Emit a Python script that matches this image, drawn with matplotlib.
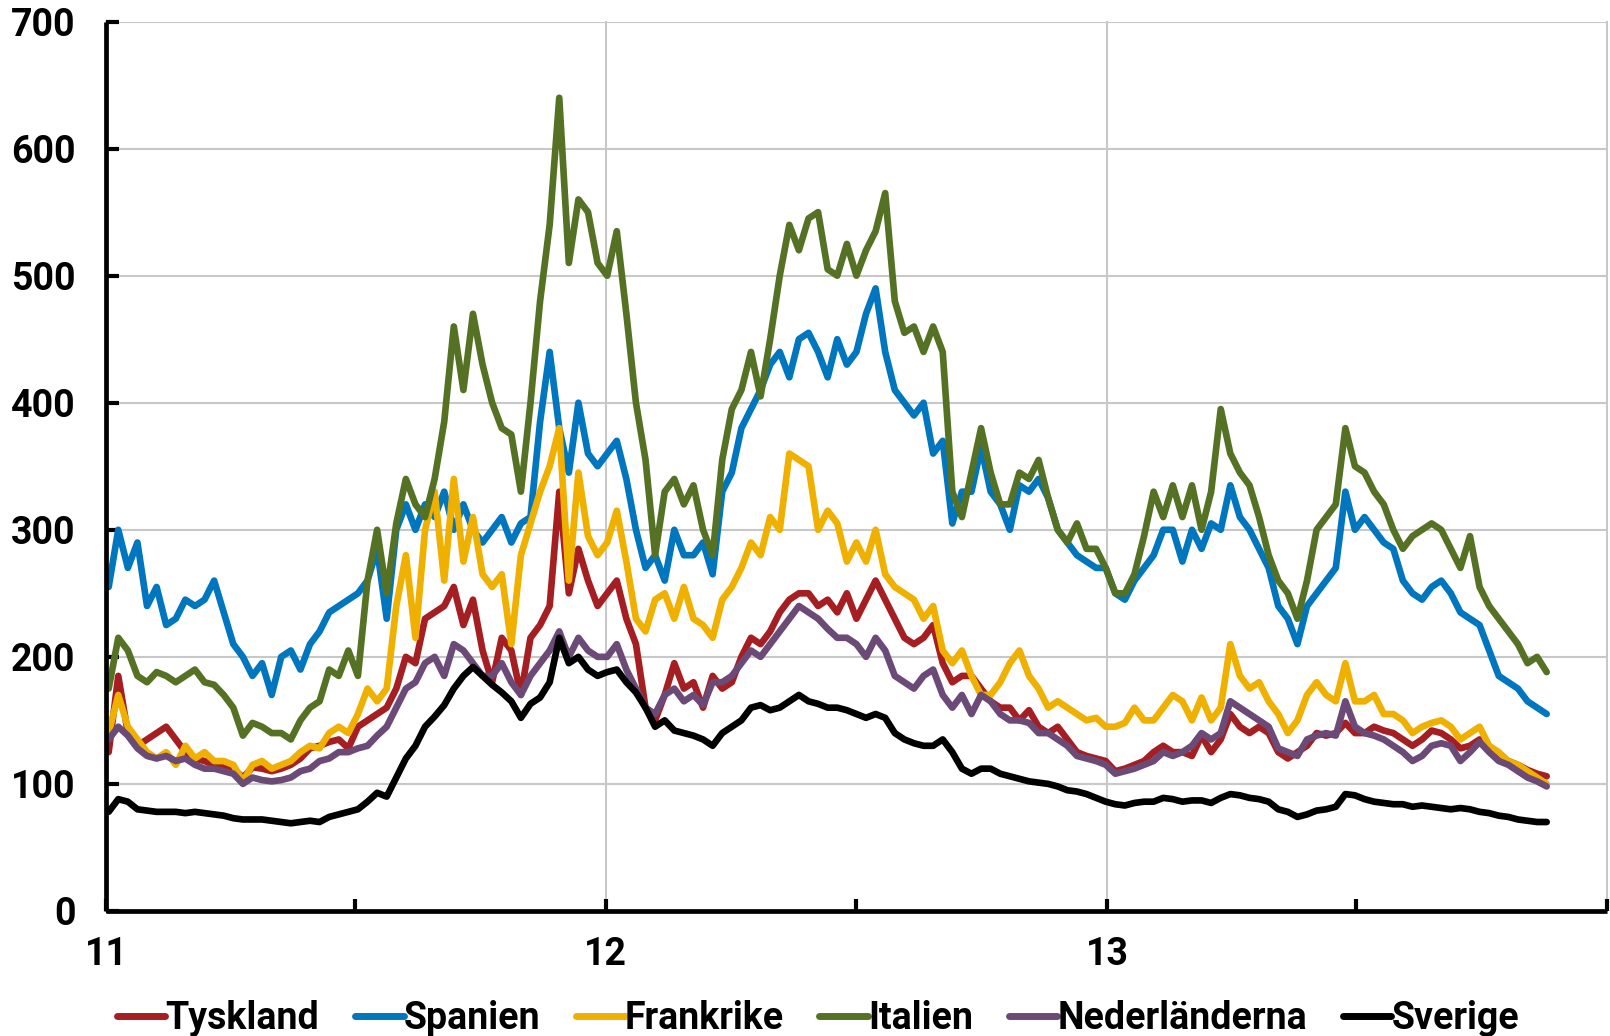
import numpy as np
import pandas as pd
import matplotlib
matplotlib.use("Agg")
import matplotlib.pyplot as plt

plt.rcParams['font.family'] = ['Roboto', 'DejaVu Sans']
plt.rcParams['font.weight'] = 'bold'

# veckodata, jan 2011 - nov 2013
dates = pd.date_range('2011-01-03', periods=151, freq='7D')

tyskland = [
    125, 185, 140, 130, 135, 140, 145, 135, 125, 120, 118, 115, 115, 112, 105, 113, 112, 110, 112, 115,
    120, 128, 130, 133, 135, 128, 145, 150, 155, 160, 175, 200, 195, 230, 235, 240, 255, 225, 245, 205,
    180, 215, 205, 170, 215, 225, 240, 330, 250, 285, 260, 240, 250, 260, 230, 210, 160, 150, 170, 195,
    175, 180, 160, 185, 175, 180, 200, 215, 210, 220, 235, 245, 250, 250, 240, 245, 235, 250, 230, 245,
    260, 245, 230, 215, 210, 215, 225, 195, 180, 185, 185, 175, 165, 160, 160, 150, 158, 145, 140, 145,
    135, 125, 122, 120, 118, 110, 112, 115, 118, 125, 130, 125, 125, 122, 138, 125, 135, 155, 145, 140,
    145, 140, 125, 120, 125, 130, 140, 138, 140, 148, 140, 140, 145, 142, 140, 135, 130, 135, 142, 140,
    135, 128, 130, 135, 128, 120, 118, 115, 111, 108, 106]

spanien = [
    255, 300, 270, 290, 240, 255, 225, 230, 245, 240, 245, 260, 235, 210, 200, 185, 195, 170, 200, 205,
    190, 210, 220, 235, 240, 245, 250, 260, 285, 230, 300, 320, 300, 320, 310, 330, 300, 320, 300, 290,
    300, 310, 290, 305, 310, 385, 440, 380, 345, 400, 360, 350, 360, 370, 340, 300, 270, 280, 260, 300,
    280, 280, 290, 265, 330, 345, 380, 395, 410, 430, 440, 420, 450, 455, 440, 420, 450, 430, 440, 470,
    490, 440, 410, 400, 390, 400, 360, 370, 305, 330, 330, 365, 330, 320, 300, 335, 330, 340, 325, 300,
    290, 280, 275, 270, 270, 250, 245, 260, 270, 280, 300, 300, 275, 300, 285, 305, 300, 335, 310, 300,
    285, 270, 240, 230, 210, 240, 250, 260, 270, 330, 300, 310, 300, 290, 285, 260, 250, 245, 255, 260,
    250, 235, 230, 225, 205, 185, 180, 175, 165, 160, 155]

frankrike = [
    140, 170, 145, 135, 125, 120, 125, 115, 130, 120, 125, 118, 118, 115, 102, 115, 118, 112, 115, 118,
    125, 130, 128, 140, 145, 140, 155, 175, 165, 175, 240, 280, 215, 300, 330, 260, 340, 275, 310, 265,
    255, 265, 210, 280, 305, 330, 350, 380, 260, 345, 295, 280, 290, 315, 275, 230, 220, 245, 250, 230,
    255, 230, 225, 215, 245, 255, 270, 290, 280, 310, 300, 360, 355, 350, 300, 315, 305, 275, 290, 275,
    300, 265, 255, 250, 245, 230, 240, 205, 195, 205, 185, 170, 170, 180, 195, 205, 185, 175, 160, 165,
    160, 155, 150, 152, 145, 145, 148, 160, 150, 150, 160, 170, 165, 150, 168, 150, 160, 210, 185, 175,
    180, 165, 155, 140, 150, 170, 180, 170, 165, 195, 165, 165, 170, 155, 155, 150, 140, 145, 148, 150,
    145, 135, 140, 145, 130, 125, 118, 115, 110, 105, 100]

italien = [
    175, 215, 205, 185, 180, 188, 185, 180, 185, 190, 180, 178, 170, 160, 138, 148, 145, 140, 140, 135,
    150, 160, 165, 190, 185, 205, 185, 260, 300, 250, 305, 340, 320, 310, 340, 385, 460, 410, 470, 430,
    400, 380, 375, 330, 400, 480, 540, 640, 510, 560, 550, 510, 500, 535, 470, 400, 355, 280, 330, 340,
    320, 335, 300, 280, 355, 395, 410, 440, 405, 450, 500, 540, 520, 545, 550, 505, 500, 525, 500, 520,
    535, 565, 480, 455, 460, 440, 460, 440, 330, 310, 345, 380, 345, 320, 320, 345, 340, 355, 325, 300,
    290, 305, 285, 285, 270, 250, 250, 265, 295, 330, 310, 335, 310, 335, 300, 330, 395, 360, 345, 335,
    310, 280, 260, 250, 230, 260, 300, 310, 320, 380, 350, 345, 330, 320, 300, 285, 295, 300, 305, 300,
    285, 270, 295, 255, 240, 230, 220, 210, 195, 200, 188]

nederlanderna = [
    135, 145, 138, 128, 122, 120, 122, 118, 120, 115, 112, 112, 110, 108, 100, 105, 103, 102, 103, 105,
    110, 112, 118, 120, 125, 125, 128, 130, 138, 145, 160, 175, 180, 195, 200, 185, 210, 205, 195, 185,
    185, 195, 180, 170, 185, 195, 205, 220, 200, 215, 205, 200, 200, 210, 190, 175, 160, 155, 170, 175,
    165, 170, 162, 180, 180, 185, 195, 205, 200, 210, 220, 230, 240, 235, 230, 222, 215, 215, 210, 200,
    215, 205, 185, 180, 175, 185, 190, 170, 160, 170, 155, 170, 165, 155, 150, 150, 148, 140, 140, 135,
    130, 122, 120, 118, 115, 108, 110, 112, 115, 118, 125, 122, 125, 130, 140, 135, 140, 165, 160, 155,
    150, 145, 128, 125, 122, 135, 138, 140, 138, 165, 145, 140, 138, 135, 130, 125, 118, 122, 130, 132,
    130, 118, 125, 133, 125, 118, 115, 110, 105, 102, 98]

sverige = [
    78, 88, 86, 80, 79, 78, 78, 78, 77, 78, 77, 76, 75, 73, 72, 72, 72, 71, 70, 69,
    70, 71, 70, 74, 76, 78, 80, 86, 93, 90, 105, 120, 130, 145, 153, 162, 175, 185, 192, 185,
    178, 172, 165, 152, 163, 168, 180, 215, 195, 200, 190, 185, 188, 190, 180, 172, 160, 145, 150, 142,
    140, 138, 135, 130, 140, 145, 150, 160, 162, 158, 160, 165, 170, 165, 163, 160, 160, 158, 155, 152,
    155, 152, 140, 135, 132, 130, 130, 135, 125, 112, 108, 112, 112, 108, 106, 104, 102, 101, 100, 98,
    95, 94, 92, 89, 86, 84, 83, 85, 86, 86, 89, 88, 86, 87, 87, 85, 89, 92, 91, 89,
    88, 86, 80, 78, 74, 76, 79, 80, 82, 92, 91, 88, 86, 85, 84, 84, 82, 83, 82, 81,
    80, 81, 80, 78, 77, 75, 74, 72, 71, 70, 70]

names = ['Tyskland', 'Spanien', 'Frankrike', 'Italien', 'Nederländerna', 'Sverige']
series = [tyskland, spanien, frankrike, italien, nederlanderna, sverige]
colors = ['#A51E22', '#0076BF', '#EFB000', '#557224', '#6B4A78', '#000000']

fig = plt.figure(figsize=(16.1, 10.36), dpi=100)
ax = fig.add_axes([0.0658, 0.1207, 0.9323, 0.8585])

for name, vals, col in zip(names, series, colors):
    ax.plot(dates, vals, color=col, lw=4.8, label=name,
            solid_joinstyle='round', solid_capstyle='round')

ax.set_ylim(0, 700)
ax.set_xlim(pd.Timestamp('2011-01-01'), pd.Timestamp('2014-01-01'))
ax.set_yticks(np.arange(0, 701, 100))

years = [pd.Timestamp(f'{y}-01-01') for y in (2011, 2012, 2013, 2014)]
halves = [pd.Timestamp(f'{y}-07-02') for y in (2011, 2012, 2013)]
ax.set_xticks(years)
ax.set_xticklabels(['11', '12', '13', ''])
ax.set_xticks(halves, minor=True)

ax.grid(True, which='major', color='#C8C8C8', lw=1.5)
ax.set_axisbelow(True)
for g in ax.get_xgridlines():
    g.set_clip_on(False)

for s in ('top', 'right'):
    ax.spines[s].set_visible(False)
for s in ('left', 'bottom'):
    ax.spines[s].set_linewidth(3.4)
    ax.spines[s].set_capstyle('butt')

ax.tick_params(axis='y', direction='in', length=9, width=3, pad=22, labelsize=27)
ax.tick_params(axis='x', which='both', direction='in', length=9, width=3, pad=18, labelsize=27)
for lab in ax.get_xticklabels() + ax.get_yticklabels():
    lab.set_fontweight('bold')

leg = fig.legend(loc='center', bbox_to_anchor=(0.508, 0.017), ncol=6, frameon=False,
                 prop={'size': 27, 'weight': 'bold'},
                 handlelength=1.3, handletextpad=0.0, columnspacing=0.95)
for line in leg.get_lines():
    line.set_linewidth(5)

fig.savefig('out.png', dpi=100)
